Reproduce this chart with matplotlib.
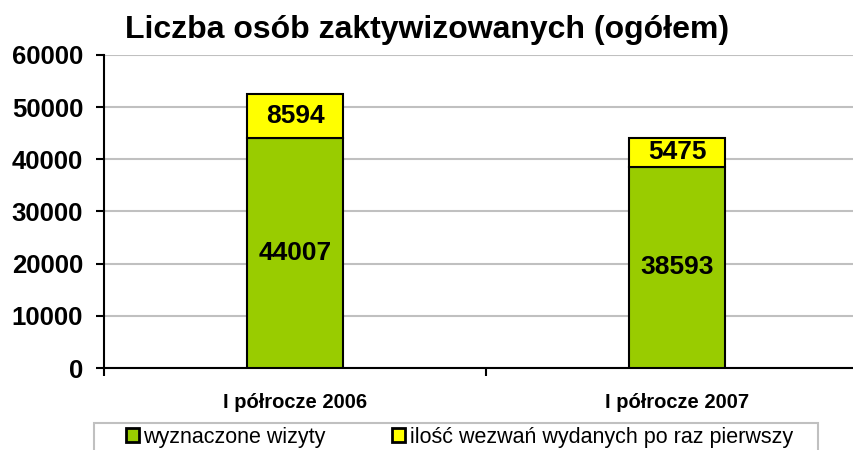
import matplotlib
matplotlib.use('Agg')
import matplotlib.pyplot as plt
from matplotlib.patches import Rectangle
import numpy as np

# data
categories = ['I półrocze 2006', 'I półrocze 2007']
wizyty = [44007, 38593]
wezwania = [8594, 5475]
series_names = ['wyznaczone wizyty', 'ilość wezwań wydanych po raz pierwszy']
yticks = [0, 10000, 20000, 30000, 40000, 50000, 60000]

plt.rcParams['font.family'] = ['Liberation Sans', 'DejaVu Sans']

fig = plt.figure(figsize=(8.54, 4.5), dpi=100)
ax = fig.add_axes([104 / 854, 82 / 450, 764 / 854, 313 / 450])

x = np.arange(len(categories))
green = '#99CC00'
yellow = '#FFFF00'
b1 = ax.bar(x, wizyty, width=0.25, color=green, edgecolor='black', linewidth=1.5,
            label=series_names[0], zorder=3)
b2 = ax.bar(x, wezwania, width=0.25, bottom=wizyty, color=yellow, edgecolor='black',
            linewidth=1.5, label=series_names[1], zorder=3)

# value labels in the middle of each segment
for i in range(len(categories)):
    ax.text(x[i], wizyty[i] / 2, str(wizyty[i]), ha='center', va='center',
            fontsize=19, fontweight='bold', zorder=4)
    ax.text(x[i], wizyty[i] + wezwania[i] / 2, str(wezwania[i]), ha='center',
            va='center', fontsize=19, fontweight='bold', zorder=4)

ax.set_xlim(-0.5, len(categories) - 0.5)
ax.set_ylim(0, 60000)
ax.set_yticks(yticks)
ax.set_yticklabels([str(v) for v in yticks], fontsize=18.5, fontweight='bold')
ax.tick_params(axis='y', direction='out', length=6, width=1.5, pad=9)
ax.yaxis.grid(True, color='#c0c0c0', linewidth=1.5, zorder=0)
ax.set_axisbelow(True)

# ticks between categories, labels at the centres
ax.set_xticks(np.arange(len(categories) + 1) - 0.5)
ax.set_xticklabels([])
ax.tick_params(axis='x', which='major', direction='out', length=6, width=1.5)
ax.set_xticks(x, minor=True)
ax.set_xticklabels(categories, minor=True, fontsize=14.5, fontweight='bold')
ax.tick_params(axis='x', which='minor', length=0, pad=18)

for s in ['top', 'right']:
    ax.spines[s].set_visible(False)
for s in ['left', 'bottom']:
    ax.spines[s].set_linewidth(1.5)

fig.text(427 / 854, 1 - 30 / 450, 'Liczba osób zaktywizowanych (ogółem)',
         ha='center', va='center', fontsize=23, fontweight='bold')

# legend box (frame drawn separately, it runs off the bottom of the picture)
fig.patches.append(Rectangle((94 / 854, -0.02), 724 / 854, 0.02 + 27 / 450,
                             transform=fig.transFigure, facecolor='white',
                             edgecolor='#c0c0c0', linewidth=1.5))
leg = fig.legend(handles=[b1, b2], loc='center left', bbox_to_anchor=(126 / 854, 1 - 437 / 450),
                 ncol=2, fontsize=15.5, frameon=False, handlelength=0.6,
                 handleheight=0.6, handletextpad=0.2, columnspacing=3.1,
                 borderpad=0, borderaxespad=0)
for h in leg.legend_handles:
    h.set_linewidth(2)

fig.savefig('out.png', dpi=100)
